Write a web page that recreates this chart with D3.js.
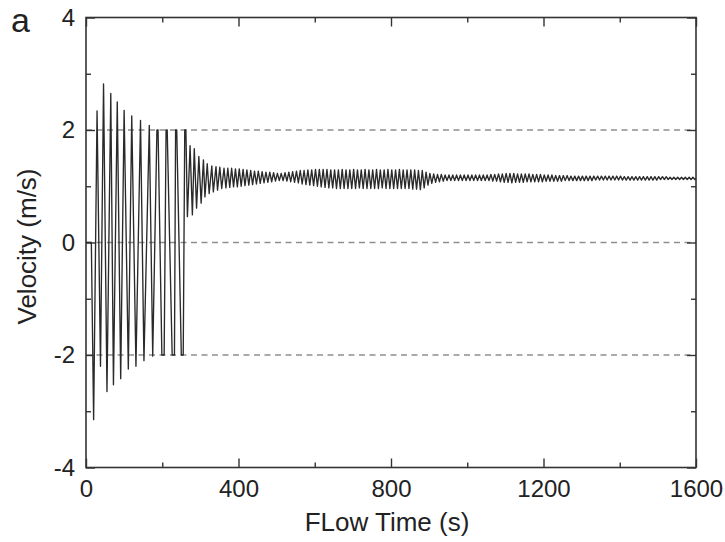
<!DOCTYPE html>
<html>
<head>
<meta charset="utf-8">
<script src="https://cdn.jsdelivr.net/npm/d3@7"></script>
<style>
  body { margin: 0; background: #fff; }
  svg { display: block; font-family: "Liberation Sans", Arial, sans-serif; }
</style>
</head>
<body>
<svg id="chart" width="725" height="542"></svg>
<script>
// extrema of the velocity trace, [time s, velocity m/s]
const startup = [
  [0, 0], [14, 0], [20, -3.15], [29, 2.34], [38, -2.2], [46, 2.82], [55, -2.65], [65, 2.65],
  [72, -2.53], [82, 2.5], [91, -2.42], [100, 2.35], [111, -2.25], [120, 2.25], [131, -2.2],
  [143, 2.17], [152, -2.1], [166, 2.08], [175, -2.02], [186, 2.0], [189, 2.0], [199, -2],
  [205, -2], [210, 2], [213, 2], [226, -2], [232, -2], [235, 2], [238, 2], [250, -2],
  [255, -2], [259, 2], [262, 2]
]

const decay = [
  [266, 0.46], [273, 1.72], [279, 0.49], [284, 1.67], [290, 0.61], [296, 1.53], [302, 0.70],
  [308, 1.47], [312, 0.81], [318, 1.40], [323, 0.87], [330, 1.36], [334, 0.90], [341, 1.35],
  [345, 0.93], [351, 1.34], [356, 0.96], [362, 1.32], [367, 0.97], [372, 1.32], [377, 0.98],
  [382, 1.32], [387, 0.99], [392, 1.31], [397, 0.99]
]

const settle = [
  [402, 1.31], [407, 1.00], [412, 1.30], [417, 1.01], [422, 1.29], [427, 1.02], [432, 1.28], [437, 1.03], [442, 1.27], [447, 1.04],
  [452, 1.27], [457, 1.05], [462, 1.26], [467, 1.06], [472, 1.25], [477, 1.07], [482, 1.25], [487, 1.08], [492, 1.24], [497, 1.09],
  [502, 1.23], [507, 1.10], [512, 1.23], [517, 1.10], [522, 1.24], [527, 1.09], [532, 1.25], [537, 1.08], [542, 1.26], [547, 1.07],
  [552, 1.27], [557, 1.06], [562, 1.28], [567, 1.04], [572, 1.28], [577, 1.03], [582, 1.29], [587, 1.02], [592, 1.29], [597, 1.01],
  [602, 1.30], [607, 1.00], [612, 1.30], [617, 0.99], [622, 1.30], [627, 0.98], [632, 1.30], [637, 0.97], [642, 1.29], [647, 0.97],
  [652, 1.29], [657, 0.96], [662, 1.29], [667, 0.96], [672, 1.30], [677, 0.96], [682, 1.29], [687, 0.96], [692, 1.29], [697, 0.96],
  [702, 1.30], [707, 0.96], [712, 1.29], [717, 0.97], [722, 1.29], [727, 0.96], [732, 1.30], [737, 0.96], [742, 1.29], [747, 0.96],
  [752, 1.29], [757, 0.96], [762, 1.30], [767, 0.96], [772, 1.29], [777, 0.97], [782, 1.29], [787, 0.96], [792, 1.30], [797, 0.96],
  [802, 1.29], [807, 0.96], [812, 1.29], [817, 0.96], [822, 1.30], [827, 0.96], [832, 1.29], [837, 0.96], [842, 1.29], [847, 0.96],
  [852, 1.29], [857, 0.95], [862, 1.29], [867, 0.95], [872, 1.28], [877, 0.94], [882, 1.28], [887, 0.97], [892, 1.25], [897, 1.02]
]

const tail = [
  [902, 1.23], [907, 1.05], [912, 1.22], [917, 1.07], [922, 1.21], [927, 1.08], [932, 1.21], [937, 1.09], [942, 1.20], [947, 1.10],
  [952, 1.20], [957, 1.10], [962, 1.20], [967, 1.10], [972, 1.20], [977, 1.10], [982, 1.20], [987, 1.10], [992, 1.20], [997, 1.10],
  [1002, 1.20], [1007, 1.10], [1012, 1.20], [1017, 1.10], [1022, 1.20], [1027, 1.10], [1032, 1.20], [1037, 1.10], [1042, 1.20], [1047, 1.10],
  [1052, 1.20], [1057, 1.10], [1062, 1.21], [1067, 1.09], [1072, 1.21], [1077, 1.09], [1082, 1.22], [1087, 1.08], [1092, 1.22], [1097, 1.07],
  [1102, 1.23], [1107, 1.07], [1112, 1.23], [1117, 1.06], [1122, 1.23], [1127, 1.07], [1132, 1.22], [1137, 1.07], [1142, 1.22], [1147, 1.07],
  [1152, 1.22], [1157, 1.08], [1162, 1.22], [1167, 1.08], [1172, 1.21], [1177, 1.08], [1182, 1.21], [1187, 1.08], [1192, 1.21], [1197, 1.08],
  [1202, 1.20], [1207, 1.09], [1212, 1.20], [1217, 1.09], [1222, 1.20], [1227, 1.09], [1232, 1.19], [1237, 1.09], [1242, 1.19], [1247, 1.09],
  [1252, 1.19], [1257, 1.10], [1262, 1.19], [1267, 1.10], [1272, 1.18], [1277, 1.10], [1282, 1.18], [1287, 1.10], [1292, 1.18], [1297, 1.10],
  [1302, 1.18], [1307, 1.10], [1312, 1.18], [1317, 1.10], [1322, 1.18], [1327, 1.10], [1332, 1.18], [1337, 1.11], [1342, 1.18], [1347, 1.11],
  [1352, 1.18], [1357, 1.11], [1362, 1.18], [1367, 1.11], [1372, 1.18], [1377, 1.11], [1382, 1.18], [1387, 1.11], [1392, 1.18], [1397, 1.11],
  [1402, 1.18], [1407, 1.11], [1412, 1.17], [1417, 1.11], [1422, 1.17], [1427, 1.11], [1432, 1.17], [1437, 1.11], [1442, 1.17], [1447, 1.11],
  [1452, 1.17], [1457, 1.11], [1462, 1.17], [1467, 1.11], [1472, 1.17], [1477, 1.11], [1482, 1.17], [1487, 1.11], [1492, 1.17], [1497, 1.11],
  [1502, 1.17], [1507, 1.12], [1512, 1.17], [1517, 1.12], [1522, 1.17], [1527, 1.12], [1532, 1.16], [1537, 1.12], [1542, 1.16], [1547, 1.12],
  [1552, 1.16], [1557, 1.12], [1562, 1.16], [1567, 1.12], [1572, 1.16], [1577, 1.12], [1582, 1.16], [1587, 1.12], [1592, 1.16], [1597, 1.12],
  [1600, 1.14]
]

const xMajor = [0, 400, 800, 1200, 1600]
const xMinor = [200, 600, 1000, 1400]
const yMajor = [-4, -2, 0, 2, 4]
const yMinor = [-3, -1, 1, 3]
const refLines = [-2, 0, 2]

const margin = {top: 17.5, right: 29, bottom: 74.5, left: 86}
const width = 725
const height = 542
const innerW = width - margin.left - margin.right
const innerH = height - margin.top - margin.bottom

const svg = d3.select("#chart")
const g = svg.append("g").attr("transform", `translate(${margin.left},${margin.top})`)

const x = d3.scaleLinear().domain([0, 1600]).range([0, innerW])
const y = d3.scaleLinear().domain([-4, 4]).range([innerH, 0])

const series = [...startup, ...decay, ...settle, ...tail]

// dashed reference lines
g.append("g")
    .selectAll("line")
    .data(refLines)
    .join("line")
    .attr("x1", 0)
    .attr("x2", innerW)
    .attr("y1", d => y(d))
    .attr("y2", d => y(d))
    .attr("stroke", "#8f8f8f")
    .attr("stroke-width", 1.3)
    .attr("stroke-dasharray", "6,4.5")

// the trace
g.append("path")
    .datum(series)
    .attr("fill", "none")
    .attr("stroke", "#2a2a2a")
    .attr("stroke-width", 1.35)
    .attr("stroke-linejoin", "round")
    .attr("d", d3.line().x(d => x(d[0])).y(d => y(d[1])))

// inward ticks on all four sides
const tickAxis = (axis, scale, values, size, labelled) =>
    axis(scale).tickValues(values).tickSize(-size)
        .tickFormat(labelled ? (d => String(d)) : "")

const addAxis = (axis, transform, pad) => {
    const a = g.append("g").attr("transform", transform).call(axis.tickPadding(pad))
    a.select(".domain").remove()
    a.selectAll("line").attr("stroke", "#333").attr("stroke-width", 1.4)
    a.selectAll("text")
        .attr("fill", "#222")
        .style("font-size", "24px")
        .style("font-family", "'Liberation Sans', Arial, sans-serif")
    return a
}

addAxis(tickAxis(d3.axisBottom, x, xMajor, 9, true), `translate(0,${innerH})`, 12)
addAxis(tickAxis(d3.axisBottom, x, xMinor, 5, false), `translate(0,${innerH})`, 0)
addAxis(tickAxis(d3.axisTop, x, xMajor, 9, false), "translate(0,0)", 0)
addAxis(tickAxis(d3.axisTop, x, xMinor, 5, false), "translate(0,0)", 0)
addAxis(tickAxis(d3.axisLeft, y, yMajor, 9, true), "translate(0,0)", 11)
addAxis(tickAxis(d3.axisLeft, y, yMinor, 5, false), "translate(0,0)", 0)
addAxis(tickAxis(d3.axisRight, y, yMajor, 9, false), `translate(${innerW},0)`, 0)
addAxis(tickAxis(d3.axisRight, y, yMinor, 5, false), `translate(${innerW},0)`, 0)

// frame
g.append("rect")
    .attr("width", innerW)
    .attr("height", innerH)
    .attr("fill", "none")
    .attr("stroke", "#333")
    .attr("stroke-width", 1.6)

// titles
svg.append("text")
    .attr("x", margin.left + innerW / 2 - 4)
    .attr("y", 531)
    .attr("text-anchor", "middle")
    .attr("fill", "#222")
    .style("font-size", "26px")
    .text("FLow Time (s)")

svg.append("text")
    .attr("transform", `translate(36,${margin.top + innerH / 2 + 4}) rotate(-90)`)
    .attr("text-anchor", "middle")
    .attr("fill", "#222")
    .style("font-size", "26px")
    .text("Velocity (m/s)")

svg.append("text")
    .attr("x", 11)
    .attr("y", 32)
    .attr("fill", "#222")
    .style("font-size", "34px")
    .text("a")
</script>
</body>
</html>
